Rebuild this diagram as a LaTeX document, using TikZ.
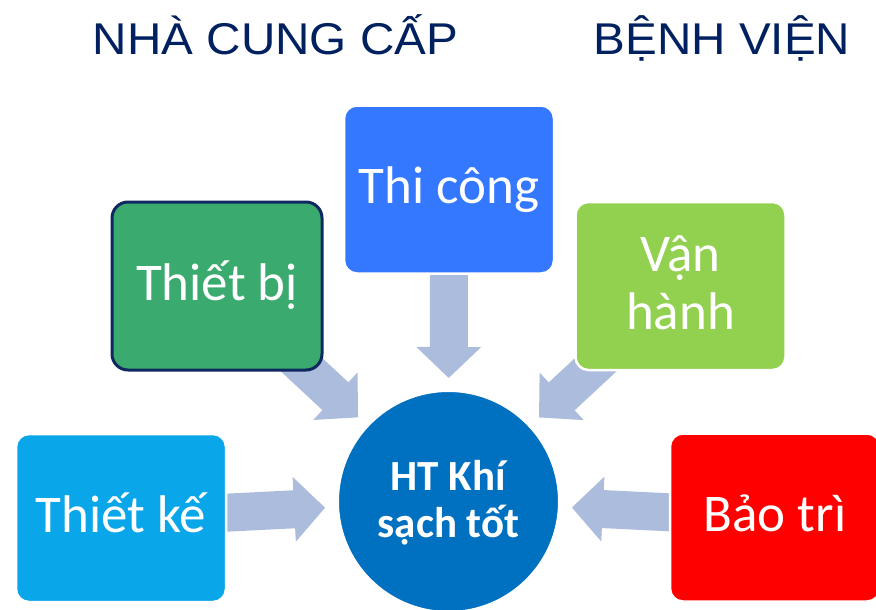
\documentclass[tikz,border=0pt]{standalone}
\usepackage{fontspec}
\setmainfont{Carlito}
\newfontfamily\titlefont{Liberation Sans}
\usetikzlibrary{arrows.meta,backgrounds}
\definecolor{titlenavy}{RGB}{0,32,96}
\definecolor{tkblue}{RGB}{10,166,234}
\definecolor{tbgreen}{RGB}{58,170,110}
\definecolor{tbborder}{RGB}{16,40,96}
\definecolor{tcblue}{RGB}{52,120,255}
\definecolor{vhgreen}{RGB}{146,208,80}
\definecolor{btred}{RGB}{255,0,0}
\definecolor{hubblue}{RGB}{0,112,192}
\definecolor{arrowblue}{RGB}{172,188,220}
\tikzset{
  heading/.style={anchor=base, text=titlenavy, inner sep=0pt, xscale=1.07,
    font=\titlefont\fontsize{44.5}{50}\selectfont},
  box/.style={rounded corners=13pt, minimum width=210pt, minimum height=168pt,
    inner sep=0pt, draw=white, line width=2.5pt, text=white, align=center,
    font=\fontsize{53}{58}\selectfont, text height=39pt, text depth=11pt},
  hubnode/.style={circle, fill=hubblue, draw=white, line width=2pt,
    minimum size=221pt, inner sep=0pt, text=white, align=center,
    font=\bfseries\fontsize{43}{47.5}\selectfont, text height=79pt, text depth=7pt},
  flow/.style={draw=arrowblue, line width=38pt, shorten >=12pt,
    -{Triangle[length=31pt,width=63pt]}}
}
\begin{document}
\begin{tikzpicture}[x=1pt,y=-1pt]
\useasboundingbox (0,0) rectangle (876,610);

\node[heading] (sup) at (275.5,55) {NHÀ CUNG CẤP};
\node[heading] (hosp) at (722,55) {BỆNH VIỆN};

\node[hubnode] (hub) at (448.5,501.5) {HT Khí\\sạch tốt};

\node[box, fill=tkblue] (tk) at (121,518) {Thiết kế};
\node[box, fill=tbgreen, draw=tbborder, line width=3pt, rounded corners=16pt] (tb) at (217,286) {Thiết bị};
\node[box, fill=tcblue] (tc) at (449,189.5) {Thi công};
\node[box, fill=vhgreen, text height=97pt] (vh) at (680.5,286) {Vận\\hành};
\node[box, fill=btred] (bt) at (775,517.5) {Bảo trì};

\begin{scope}[on background layer]
  \fill[white] (0,0) rectangle (876,610);
  \draw[flow] (tk.center) -- (hub);
  \draw[flow] (tb.center) -- (hub);
  \draw[flow] (tc.center) -- (hub);
  \draw[flow] (vh.center) -- (hub);
  \draw[flow] (bt.center) -- (hub);
\end{scope}
\end{tikzpicture}
\end{document}
